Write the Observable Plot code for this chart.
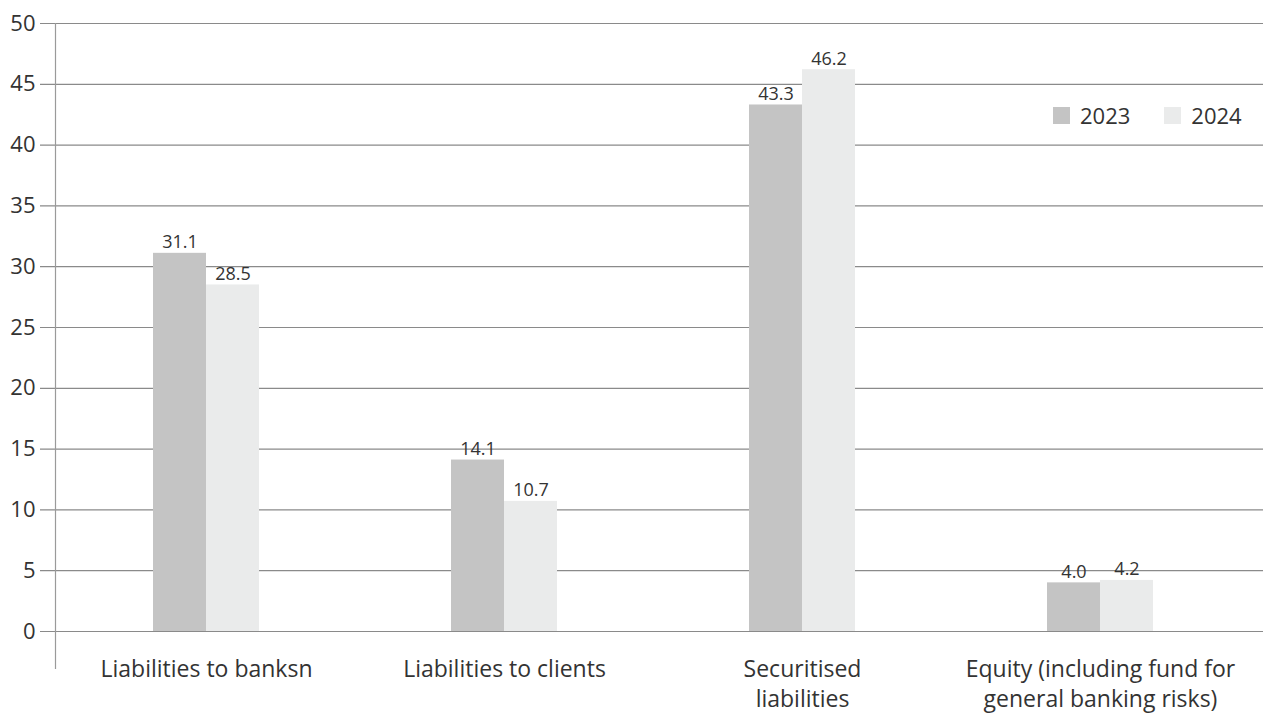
<!DOCTYPE html>
<html>
<head>
<meta charset="utf-8">
<script src="https://cdn.jsdelivr.net/npm/d3@7"></script>
<script src="https://cdn.jsdelivr.net/npm/@observablehq/plot@0.6"></script>
<style>
  html, body { margin: 0; padding: 0; background: #fff; }
  #wrap { position: relative; width: 1263px; height: 713px; font-family: "Open Sans", sans-serif; color: #333; }
  #legend { position: absolute; top: 100px; left: 1053px; display: flex; align-items: center; font-size: 22px; color: #333; }
  #legend .item { display: flex; align-items: center; margin-right: 34px; }
  #legend .item:last-child { margin-right: 0; }
  #legend .sw { width: 17px; height: 17px; margin-right: 10px; }
</style>
</head>
<body>
<div id="wrap"><div id="legend"></div></div>
<script>
const categories = [
  "Liabilities to banksn",
  "Liabilities to clients",
  "Securitised\nliabilities",
  "Equity (including fund for\ngeneral banking risks)"
];
const years = ["2023", "2024"];
const values2023 = [31.1, 14.1, 43.3, 4.0];
const values2024 = [28.5, 10.7, 46.2, 4.2];
const yTicks = [0, 5, 10, 15, 20, 25, 30, 35, 40, 45, 50];
const colors = {"2023": "#c4c4c4", "2024": "#eaebeb"};

const data = [];
categories.forEach((c, i) => {
  data.push({category: c, year: "2023", value: values2023[i]});
  data.push({category: c, year: "2024", value: values2024[i]});
});
const d23 = data.filter(d => d.year === "2023");
const d24 = data.filter(d => d.year === "2024");

const chart = Plot.plot({
  width: 1263,
  height: 713,
  marginLeft: 40,
  marginRight: 0,
  marginTop: 23,
  marginBottom: 45,
  style: {fontFamily: "'Open Sans', sans-serif", color: "#333", background: "#fff"},
  x: {domain: categories, range: [56, 1249], paddingInner: 0.6446, paddingOuter: 0.3223, label: null},
  y: {domain: [0, 50], range: [631, 23], label: null},
  marks: [
    Plot.ruleY(yTicks, {stroke: "#8a8a8a", strokeWidth: 1.2}),
    Plot.frame({anchor: "left", dx: 15, stroke: "#9a9a9a", strokeWidth: 1.2}),
    Plot.barY(d23, {x: "category", y: "value", fill: colors["2023"], insetRight: 53}),
    Plot.barY(d24, {x: "category", y: "value", fill: colors["2024"], insetLeft: 53}),
    Plot.text(d23, {x: "category", y: "value", text: d => d.value.toFixed(1), dx: -26.5, dy: -5, lineAnchor: "bottom", fontSize: 18, fill: "#333"}),
    Plot.text(d24, {x: "category", y: "value", text: d => d.value.toFixed(1), dx: 26.5, dy: -5, lineAnchor: "bottom", fontSize: 18, fill: "#333"}),
    Plot.axisY(yTicks, {anchor: "left", tickSize: 0, tickPadding: 5, fontSize: 22, fill: "#333", label: null}),
    Plot.axisX({anchor: "bottom", tickSize: 0, tickPadding: 0, dy: -13, fontSize: 23, lineHeight: 1.3, fill: "#333", label: null})
  ]
});
document.getElementById("wrap").prepend(chart);

const legend = document.getElementById("legend");
years.forEach(y => {
  const item = document.createElement("div");
  item.className = "item";
  const sw = document.createElement("div");
  sw.className = "sw";
  sw.style.background = colors[y];
  const t = document.createElement("span");
  t.textContent = y;
  item.appendChild(sw);
  item.appendChild(t);
  legend.appendChild(item);
});
</script>
</body>
</html>
